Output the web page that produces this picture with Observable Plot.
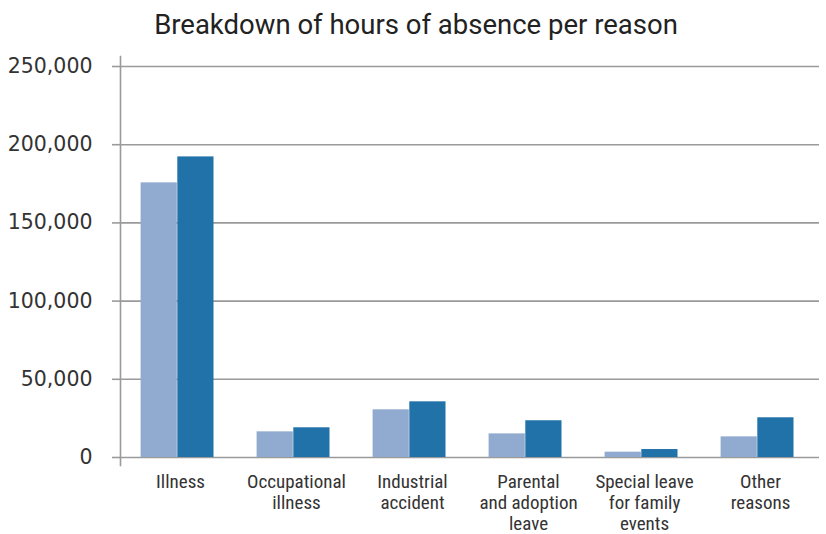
<!DOCTYPE html>
<html><head><meta charset="utf-8">
<script src="https://cdn.jsdelivr.net/npm/d3@7"></script>
<script src="https://cdn.jsdelivr.net/npm/@observablehq/plot@0.6"></script>
<style>
body{margin:0;background:#fff;}
#title{height:50px;font:400 27.5px Roboto, sans-serif;text-align:center;line-height:50px;color:#222;padding-left:6px;box-sizing:border-box;}
</style></head><body>
<div id="chart"><div id="title">Breakdown of hours of absence per reason</div></div>
<script>
const categories = ["Illness", "Occupational illness", "Industrial accident", "Parental and adoption leave", "Special leave for family events", "Other reasons"];
const categoryLabels = ["Illness", "Occupational\nillness", "Industrial\naccident", "Parental\nand adoption\nleave", "Special leave\nfor family\nevents", "Other\nreasons"];
const seriesNames = ["Series 1", "Series 2"];
const series1 = [175600, 16400, 30500, 15100, 3400, 13200];
const series2 = [192200, 19000, 35600, 23500, 5100, 25400];
const yTicks = [0, 50000, 100000, 150000, 200000, 250000];
const colors = ["#91AACF", "#2272AA"];

const rows1 = categories.map((c, i) => ({category: c, series: seriesNames[0], value: series1[i]}));
const rows2 = categories.map((c, i) => ({category: c, series: seriesNames[1], value: series2[i]}));
const labelOf = Object.fromEntries(categories.map((c, i) => [c, categoryLabels[i]]));

const W = 826, ML = 120, MR = 7;
const band = (W - ML - MR) / categories.length;
const gapL = 18.6, barW = 36.7;

const chart = Plot.plot({
  width: W,
  height: 484,
  marginTop: 16,
  marginBottom: 77,
  marginLeft: ML,
  marginRight: MR,
  style: {fontFamily: "DejaVu Sans, sans-serif", color: "#333", background: "#fff"},
  x: {domain: categories, padding: 0},
  y: {domain: [0, 250000]},
  color: {domain: seriesNames, range: colors},
  marks: [
    Plot.gridY(yTicks, {stroke: "#9a9a9a", strokeOpacity: 1, strokeWidth: 1.6}),
    Plot.barY(rows1, {x: "category", y: "value", fill: "series", insetLeft: gapL, insetRight: band - gapL - barW}),
    Plot.barY(rows2, {x: "category", y: "value", fill: "series", insetLeft: gapL + barW, insetRight: band - gapL - 2 * barW}),
    Plot.frame({anchor: "left", stroke: "#9a9a9a", strokeWidth: 1.6, insetTop: -10, insetBottom: -8}),
    Plot.axisY(yTicks, {label: null, tickSize: 8, tickPadding: 20, stroke: "#9a9a9a", strokeWidth: 1.6, fontSize: 20.5, tickFormat: d3.format(",")}),
    Plot.axisX({label: null, tickSize: 0, tickPadding: 15, fontSize: 19, fontFamily: "Liberation Sans Narrow, Roboto Condensed, DejaVu Sans Condensed, sans-serif", lineHeight: 1.12, tickFormat: d => labelOf[d]})
  ]
});
document.getElementById("chart").appendChild(chart);
</script>
</body></html>
